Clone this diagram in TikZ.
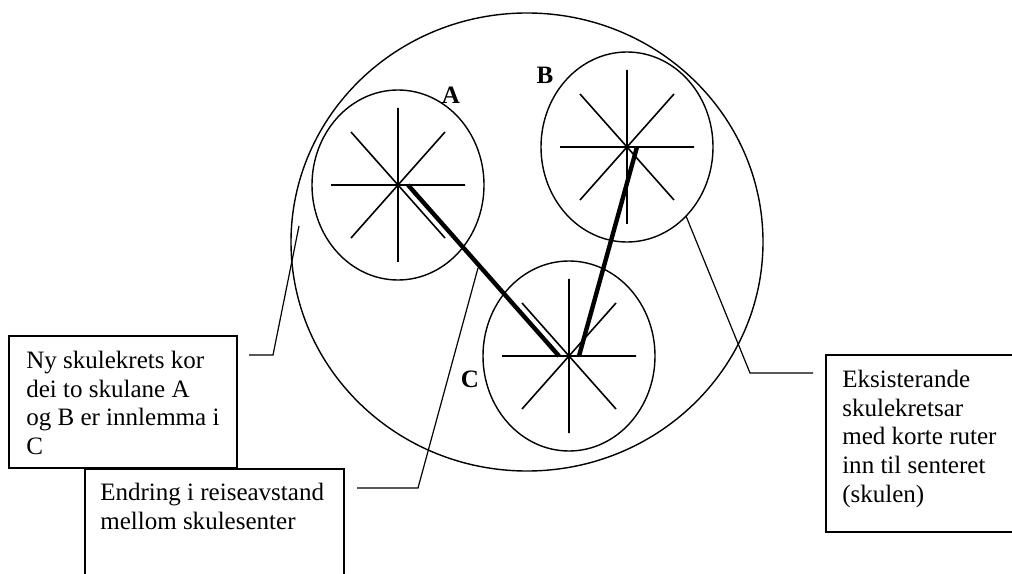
\documentclass[tikz,border=0pt]{standalone}
\usepackage{fontspec}
\setmainfont{Liberation Serif}
\usetikzlibrary{shapes.geometric}

\begin{document}
\begin{tikzpicture}[x=0.25mm, y=-0.25mm,
    krets/.style={draw, ellipse, line width=0.35mm, minimum width=43mm, minimum height=47.5mm, inner sep=0pt},
    storkrets/.style={draw, ellipse, line width=0.35mm, minimum width=118mm, minimum height=114.5mm, inner sep=0pt},
    spoke/.style={line width=0.4mm},
    rute/.style={line width=1.1mm},
    callbox/.style={draw, fill=white, line width=0.35mm, inner sep=0pt},
    calltext/.style={align=left, inner sep=0pt, anchor=north west, font=\fontsize{17.8}{20.35}\selectfont},
    lbl/.style={inner sep=0pt, font=\fontsize{17.8}{20.35}\selectfont\bfseries},
    callline/.style={line width=0.3mm}
]
    \useasboundingbox (0,0) rectangle (1012,574);
    \clip (0,0) rectangle (1012,574);

    % circles
    \node[storkrets] (ny) at (527,242) {};
    \node[krets] (kretsA) at (398,185) {};
    \node[krets] (kretsB) at (627,147) {};
    \node[krets] (kretsC) at (569,356) {};

    % stars (short routes)
    \foreach \k in {A,B,C} {
        \draw[spoke, shift={(krets\k.center)}]
            (0,-77) -- (0,77)  (-67,0) -- (67,0)
            (-47,-53) -- (47,53)  (-47,53) -- (47,-53);
    }

    \node[lbl] (labA) at (451,95) {A};
    \node[lbl] (labB) at (545,75) {B};
    \node[lbl] (labC) at (470,379) {C};

    % new travel routes
    \coordinate (rA) at ([xshift=2.5mm]kretsA.center);
    \coordinate (rB) at ([xshift=2.5mm]kretsB.center);
    \coordinate (rC1) at ([xshift=-2.5mm]kretsC.center);
    \coordinate (rC2) at ([xshift=2.5mm]kretsC.center);
    \draw[rute] (rA) -- (rC1);
    \draw[rute] (rC2) -- (rB);

    % callouts
    \node[callbox, minimum width=64.75mm, minimum height=37.5mm] (endbox) at (214.5,544) {};
    \node[callbox, minimum width=57mm, minimum height=33mm] (nybox) at (123,402) {};
    \node[callbox, minimum width=53.5mm, minimum height=44.25mm] (ekbox) at (933,443.5) {};

    \node[calltext] (nytext) at (26,351) {Ny skulekrets kor\\dei to skulane A\\og B er innlemma i\\C};
    \node[calltext] (endtext) at (100,483) {Endring i reiseavstand\\mellom skulesenter};
    \node[calltext] (ektext) at (842,370) {Eksisterande\\skulekretsar\\med korte ruter\\inn til senteret\\(skulen)};

    \coordinate (nyA) at (249,355);
    \coordinate (nyB) at (273,355);
    \coordinate (nyC) at (299,226);
    \draw[callline] (nyA) -- (nyB) -- (nyC);

    \coordinate (endA) at (357,488);
    \coordinate (endB) at (418,488);
    \coordinate (endC) at (478,268);
    \draw[callline] (endA) -- (endB) -- (endC);

    \coordinate (ekA) at (813,373);
    \coordinate (ekB) at (750,373);
    \coordinate (ekC) at (686,216);
    \draw[callline] (ekA) -- (ekB) -- (ekC);
\end{tikzpicture}
\end{document}
